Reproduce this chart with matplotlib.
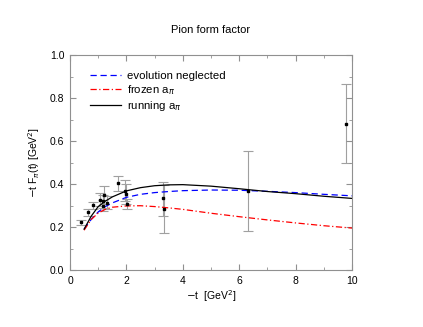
import matplotlib

matplotlib.use("Agg")

import matplotlib.pyplot as plt
from matplotlib.ticker import MultipleLocator

plt.rcParams["font.family"] = ["Liberation Sans", "DejaVu Sans"]

# measured points: -t, value, lower err, upper err
data_t = [0.39, 0.64, 0.80, 1.06, 1.16, 1.18, 1.22, 1.30, 1.70, 1.95, 2.00, 2.01, 3.31, 3.35, 6.32, 9.79]
data_y = [0.222, 0.268, 0.301, 0.326, 0.300, 0.320, 0.349, 0.313, 0.403, 0.369, 0.353, 0.307, 0.333, 0.284, 0.369, 0.679]
err_lo = [0.012, 0.015, 0.015, 0.030, 0.025, 0.030, 0.040, 0.030, 0.035, 0.050, 0.045, 0.025, 0.080, 0.110, 0.188, 0.183]
err_hi = [0.012, 0.015, 0.015, 0.030, 0.025, 0.030, 0.040, 0.030, 0.035, 0.050, 0.045, 0.025, 0.075, 0.110, 0.186, 0.188]

curve_t = [0.5, 0.75, 1.0, 1.25, 1.5, 2.0, 2.5, 3.0, 3.5, 4.0, 5.0, 6.0, 7.0, 8.0, 9.0, 10.0]
evol_neglected = [0.19, 0.235, 0.27, 0.295, 0.312, 0.338, 0.352, 0.36, 0.365, 0.369, 0.372, 0.371, 0.366, 0.36, 0.352, 0.345]
frozen = [0.185, 0.235, 0.265, 0.282, 0.292, 0.298, 0.299, 0.295, 0.289, 0.282, 0.264, 0.248, 0.233, 0.219, 0.206, 0.195]
running = [0.19, 0.25, 0.295, 0.32, 0.34, 0.368, 0.383, 0.392, 0.396, 0.397, 0.39, 0.378, 0.365, 0.355, 0.343, 0.333]

fig = plt.figure(figsize=(4.23, 3.27), dpi=100)
ax = fig.add_axes([0.1655, 0.1743, 0.6667, 0.6575])

ax.errorbar(data_t, data_y, yerr=[err_lo, err_hi], fmt="none", ecolor="#a0a0a0",
            elinewidth=0.8, capsize=3.5, capthick=0.8, zorder=1)
ax.plot(data_t, data_y, "s", color="black", markersize=1.6, zorder=3)

ax.plot(curve_t, evol_neglected, color="blue", linestyle=(0, (5, 3)), linewidth=0.9,
        label="evolution neglected", zorder=2)
ax.plot(curve_t, frozen, color="red", linestyle=(0, (5, 2, 1, 2)), linewidth=0.9,
        label=r"frozen a$_{\pi}$", zorder=2)
ax.plot(curve_t, running, color="black", linewidth=0.9, label=r"running a$_{\pi}$", zorder=2)

ax.set_xlim(0, 10)
ax.set_ylim(0, 1.0)
ax.xaxis.set_major_locator(MultipleLocator(2))
ax.xaxis.set_minor_locator(MultipleLocator(1))
ax.yaxis.set_major_locator(MultipleLocator(0.2))
ax.yaxis.set_minor_locator(MultipleLocator(0.1))
ax.yaxis.set_major_formatter(lambda v, _: f"{v:.1f}")

for s in ax.spines.values():
    s.set_color("#909090")
    s.set_linewidth(0.8)
ax.tick_params(which="both", direction="in", top=True, right=True, color="#909090",
               labelsize=7.5, pad=4)
ax.tick_params(which="major", length=4)
ax.tick_params(which="minor", length=2)

ax.set_title("Pion form factor", fontsize=8, pad=16)
ax.set_xlabel(r"$-$t  [GeV$^2$]", fontsize=7.5, labelpad=2)
ax.set_ylabel(r"$-$t F$_{\pi}$(t) [GeV$^2$]", fontsize=7.5, labelpad=6)

ax.legend(loc="upper left", frameon=False, fontsize=8.2, handlelength=2.7,
          handletextpad=0.5, bbox_to_anchor=(0.035, 0.975), labelspacing=0.2)

fig.savefig("out.png", dpi=100)
